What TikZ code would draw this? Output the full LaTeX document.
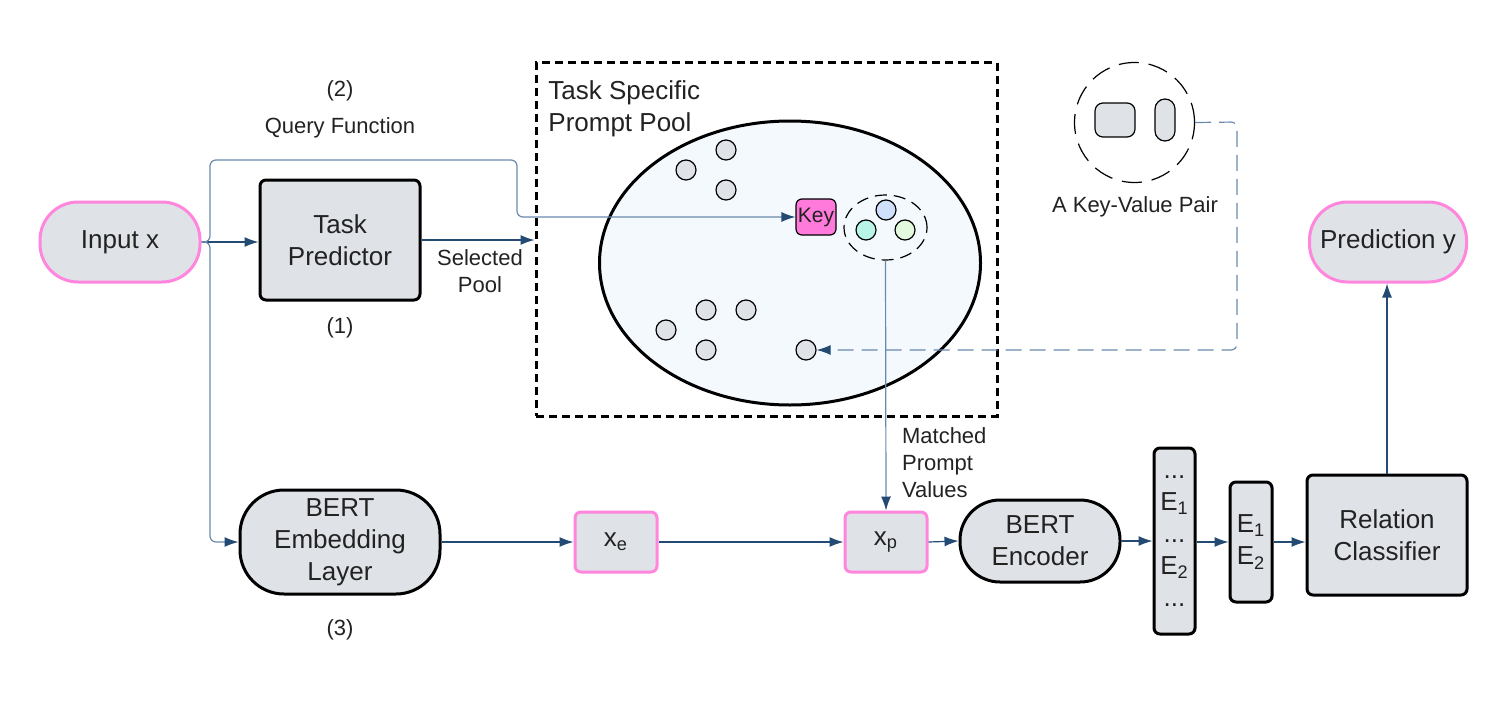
\documentclass[tikz,border=0pt]{standalone}
\usepackage{fontspec}
\setmainfont{Liberation Sans}
\usetikzlibrary{arrows.meta,shapes.geometric}

\definecolor{boxgray}{HTML}{DFE2E7}
\definecolor{pinkline}{HTML}{FF85DD}
\definecolor{keypink}{HTML}{FF7ADB}
\definecolor{flowblue}{HTML}{234A72}
\definecolor{queryblue}{HTML}{6A8AAD}
\definecolor{poolfill}{HTML}{F4F9FE}
\definecolor{valblue}{HTML}{CFE0FB}
\definecolor{valmint}{HTML}{B8F5E8}
\definecolor{valgreen}{HTML}{E3FADF}
\definecolor{txt}{HTML}{222222}

\tikzset{
  big/.style={font=\fontsize{13}{16}\selectfont, text=txt, align=center},
  small/.style={font=\fontsize{11}{13.5}\selectfont, text=txt, align=center},
  pill/.style={rectangle, rounded corners=19pt, draw=pinkline, line width=1.5pt, fill=boxgray, inner sep=0pt, big},
  blackpill/.style={rectangle, rounded corners=22pt, draw=black, line width=1.5pt, fill=boxgray, inner sep=0pt, big},
  block/.style={rectangle, rounded corners=3pt, draw=black, line width=1.5pt, fill=boxgray, inner sep=0pt, big},
  vecbox/.style={rectangle, rounded corners=3pt, draw=pinkline, line width=1.5pt, fill=boxgray, inner sep=0pt, big},
  prompt/.style={circle, draw=black, line width=0.6pt, fill=boxgray, minimum size=10pt, inner sep=0pt},
  flow/.style={draw=flowblue, line width=0.6pt, rounded corners=3pt, -{Latex[length=7pt,width=5pt]}},
  query/.style={draw=queryblue, line width=0.6pt, rounded corners=3pt, -{Latex[length=7pt,width=5pt,color=flowblue]}},
}

\begin{document}
\begin{tikzpicture}[x=0.5pt, y=-0.5pt]
  \useasboundingbox (0,0) rectangle (1507,701);

  % main blocks
  \node[pill, minimum width=80pt, minimum height=40pt] (inp) at (120,242) {Input x};
  \node[block, minimum width=80pt, minimum height=60pt] (tp) at (340,240) {Task\\Predictor};
  \node[pill, minimum width=78.5pt, minimum height=40pt] (pred) at (1388,242) {Prediction y};
  \node[blackpill, minimum width=100pt, minimum height=52pt] (emb) at (340,542) {BERT\\Embedding\\Layer};
  \node[vecbox, minimum width=41pt, minimum height=30pt] (xe) at (616,542) {x\textsubscript{e}};
  \node[vecbox, minimum width=41pt, minimum height=30pt] (xp) at (886,542) {x\textsubscript{p}};
  \node[blackpill, rounded corners=20pt, minimum width=80pt, minimum height=41pt] (enc) at (1040,541) {BERT\\Encoder};
  \node[block, minimum width=20.5pt, minimum height=93pt] (tok) at (1174.5,541) {...\\E\textsubscript{1}\\...\\E\textsubscript{2}\\...};
  \node[block, minimum width=21pt, minimum height=60pt] (ent) at (1251,542) {E\textsubscript{1}\\E\textsubscript{2}};
  \node[block, minimum width=80pt, minimum height=60pt] (rel) at (1387,535) {Relation\\Classifier};

  % prompt pool
  \node[draw, dash pattern=on 4pt off 2.5pt, line width=1.5pt, minimum width=230.5pt, minimum height=176.5pt] (pool) at (766.5,239.5) {};
  \node[big, align=left, anchor=north west, inner sep=0pt] (title) at (548,80) {Task Specific\\Prompt Pool};
  \node[ellipse, draw, line width=1.5pt, fill=poolfill, minimum width=190.5pt, minimum height=142pt, inner sep=0pt] (ell) at (790,263) {};
  \foreach \n/\px/\py in {1/686/170, 2/726/150, 3/726/190, 4/706/310, 5/746/310, 6/666/330, 7/706/350, 8/806/350}
    \node[prompt] (p\n) at (\px,\py) {};
  \node[draw=black, line width=0.6pt, fill=keypink, rounded corners=3pt, minimum width=20pt, minimum height=18pt, inner sep=0pt, font=\fontsize{10.5}{12}\selectfont, text=txt] (key) at (816,217) {Key};
  \node[ellipse, draw, dash pattern=on 6pt off 3.5pt, line width=0.6pt, minimum width=41.5pt, minimum height=32.5pt, inner sep=0pt] (vals) at (885.5,227.5) {};
  \node[prompt, fill=valblue] (v1) at (886,210) {};
  \node[prompt, fill=valmint] (v2) at (866,230) {};
  \node[prompt, fill=valgreen] (v3) at (905,230) {};

  % key-value legend
  \node[circle, draw, dash pattern=on 10pt off 5pt, line width=0.6pt, minimum size=60pt, inner sep=0pt] (kv) at (1134.5,122.5) {};
  \node[draw=black, line width=0.6pt, fill=boxgray, rounded corners=4pt, minimum width=20pt, minimum height=17pt, inner sep=0pt] (kvkey) at (1115,120) {};
  \node[draw=black, line width=0.6pt, fill=boxgray, rounded corners=5pt, minimum width=10pt, minimum height=21pt, inner sep=0pt] (kvval) at (1165,120) {};
  \node[small] (kvlbl) at (1135,207) {A Key-Value Pair};

  % labels
  \node[small] (lbl2) at (340,91) {(2)};
  \node[small] (lblq) at (340,128) {Query Function};
  \node[small] (lbl1) at (340,328) {(1)};
  \node[small] (lbl3) at (340,630) {(3)};
  \node[small] (lblsel) at (480,271) {Selected\\Pool};
  \node[small, align=left, anchor=west] (lblmat) at (895,463) {Matched\\Prompt\\Values};

  % connectors
  \coordinate (br) at (210,242);
  \coordinate (qa) at (517,160);
  \coordinate (kc) at (1237,122);
  \draw[flow] (inp.east) -- (inp.east -| tp.west);
  \draw[query] (inp.east) -- (br) |- (qa) |- (key.west);
  \draw[query] (inp.east) -- (br) |- (emb.west);
  \draw[flow] (tp.east) -- (tp.east -| pool.west);
  \draw[query] (vals.south) -- (xp.north);
  \draw[flow] (emb.east) -- (xe.west);
  \draw[flow] (xe.east) -- (xp.west);
  \draw[flow] (xp.east) -- (enc.west);
  \draw[flow] (enc.east) -- (enc.east -| tok.west);
  \draw[flow] (tok.east |- ent.west) -- (ent.west);
  \draw[flow] (ent.east) -- (ent.east -| rel.west);
  \draw[flow] (rel.north) -- (rel.north |- pred.south);
  \draw[query, dash pattern=on 8pt off 4pt] (kv.east) -- (kc) |- (p8.east);
\end{tikzpicture}
\end{document}
